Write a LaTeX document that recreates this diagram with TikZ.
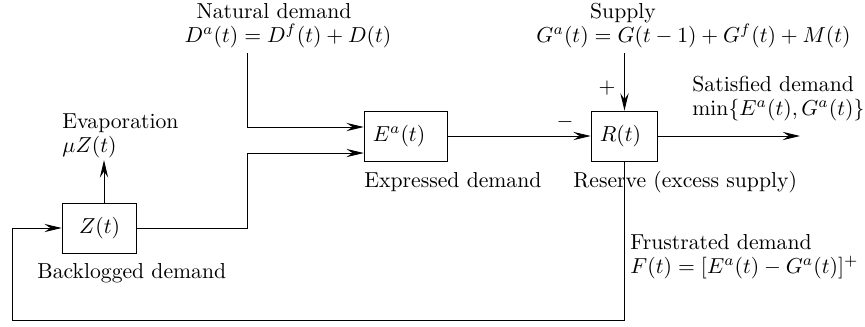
\documentclass[tikz,border=0pt]{standalone}
\usepackage{amsmath}
\usetikzlibrary{arrows.meta}

\begin{document}
\begin{tikzpicture}[
  block/.style={
      rectangle,
      draw,
      minimum height=0.81cm,
      inner xsep=4pt,
      inner ysep=0pt,
      align=left
  },
  lbl/.style={
      inner sep=0pt,
      align=left,
      font=\fontsize{10}{11}\selectfont
  },
  arrow/.style={
      -{Stealth[length=8pt,width=3.8pt,inset=2.8pt]}
  }
]

\useasboundingbox (0,0) rectangle (14.03,5.288);

% ==================================================
% Blocks
% ==================================================

\node[block,
      text width=26.5pt,
      align=center]
      (Z) at (1.614,1.590)
      {$Z(t)$};

\node[block,
      text width=30.6pt]
      (E) at (6.585,3.082)
      {$E^a(t)$};

\node[block,
      text width=22.8pt]
      (R) at (10.129,3.082)
      {$R(t)$};

% ==================================================
% Labels
% ==================================================

\node[lbl, anchor=base] (ndtitle) at (4.444,4.996)
      {Natural demand};
\node[lbl, anchor=base] (ndeq) at (4.671,4.606)
      {$D^a(t) = D^f(t) + D(t)$};

\node[lbl, anchor=base] (suptitle) at (10.105,4.996)
      {Supply};
\node[lbl, anchor=base] (supeq) at (11.249,4.606)
      {$G^a(t) = G(t-1) + G^f(t) + M(t)$};

\node[lbl, anchor=base west] (evaplbl) at (1.006,2.822)
      {Evaporation\\ $\mu Z(t)$};

\node[lbl, anchor=base west] (backlbl) at (0.600,0.779)
      {Backlogged demand};

\node[lbl, anchor=base west] (exprlbl) at (5.904,2.246)
      {Expressed demand};

\node[lbl, anchor=base west] (reslbl) at (9.294,2.246)
      {Reserve (excess supply)};

\node[lbl, anchor=base west] (satlbl) at (11.224,3.422)
      {Satisfied demand\\ $\min\{E^a(t), G^a(t)\}$};

\node[lbl, anchor=base west] (frulbl) at (10.219,0.860)
      {Frustrated demand\\ $F(t) = [E^a(t) - G^a(t)]^+$};

\node[lbl] (plus) at (9.846,3.860) {$+$};
\node[lbl] (minus) at (9.164,3.309) {$-$};

% ==================================================
% Connectors
% ==================================================

\coordinate (nd) at (4.006,4.428);
\coordinate (ev) at (1.687,2.690);
\coordinate (sat) at (12.976,3.082);
\coordinate (fb) at (0.195,0.097);

\draw[arrow]
      (nd)
      |- ([yshift=0.146cm]E.west);

\draw[arrow]
      (Z.east)
      -- (Z.east -| nd)
      |- ([yshift=-0.276cm]E.west);

\draw[arrow]
      (ev |- Z.north)
      -- (ev);

\draw[arrow]
      (E.east)
      -- (R.west);

\draw[arrow]
      (R.north |- nd)
      -- (R.north);

\draw[arrow]
      (R.east)
      -- (sat);

\draw[arrow]
      (R.south)
      |- (fb)
      |- (Z.west);

\end{tikzpicture}
\end{document}
